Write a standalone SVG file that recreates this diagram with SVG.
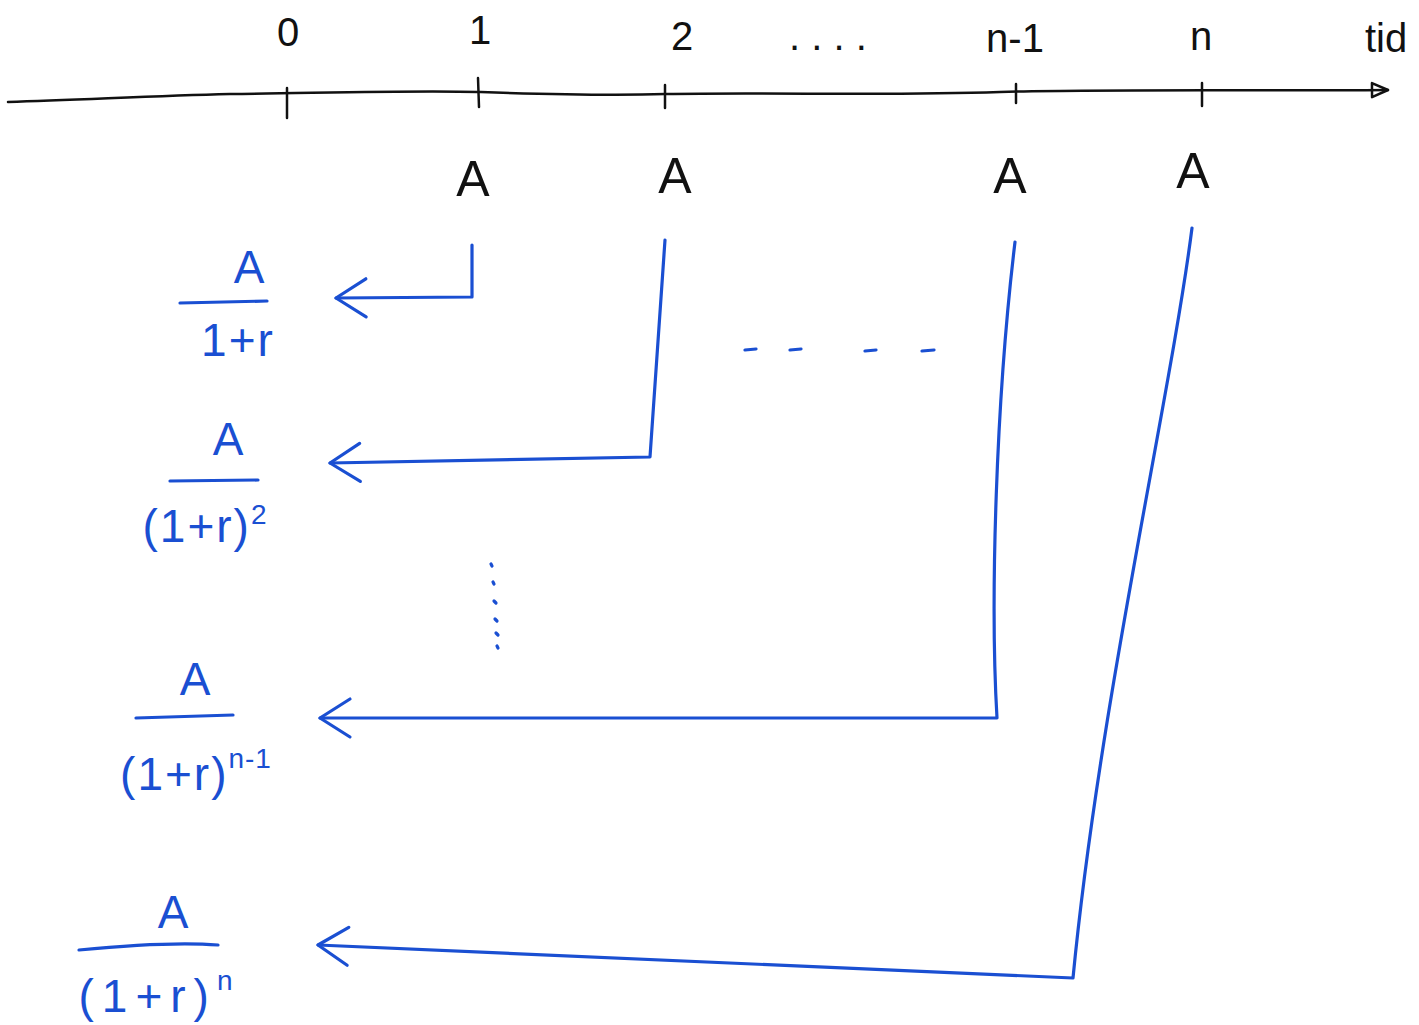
<svg xmlns="http://www.w3.org/2000/svg" width="1419" height="1025" viewBox="0 0 1419 1025">
<style>
.k{font-family:"Liberation Sans",Arial,sans-serif;fill:#111}
.b{font-family:"Liberation Sans",Arial,sans-serif;fill:#1a4fd2}
.ax{fill:none;stroke:#111;stroke-width:2.5;stroke-linecap:round}
.bl{fill:none;stroke:#1a4fd2;stroke-width:3.2;stroke-linecap:round;stroke-linejoin:round}
.lbl{font-size:40px;text-anchor:middle}
.A{font-size:50px;text-anchor:middle}
.num{font-size:46px;text-anchor:middle}
.den{font-size:46px;text-anchor:middle;letter-spacing:2px}
.wide{letter-spacing:8px}
.sup{font-size:28px;letter-spacing:1px}
</style>
<defs>
<marker id="tri" markerUnits="userSpaceOnUse" markerWidth="24" markerHeight="20" refX="18" refY="10" orient="auto">
<path d="M2,3 L18,10 L2,17 Z" fill="none" stroke="#111" stroke-width="2.5" stroke-linejoin="round"/>
</marker>
<marker id="chev" markerUnits="userSpaceOnUse" markerWidth="40" markerHeight="50" refX="36" refY="25" orient="auto">
<path d="M6,6 L36,25 L6,44" fill="none" stroke="#1a4fd2" stroke-width="3.2" stroke-linecap="round" stroke-linejoin="round"/>
</marker>
</defs>
<rect width="1419" height="1025" fill="#fff"/>

<g id="timeline">
<path class="ax" d="M8,102 C80,100 150,96 230,94 C320,93 420,90 478,92 C540,94 600,96 665,94 C780,92 880,96 1000,92 C1100,89 1250,91 1388,90" marker-end="url(#tri)"/>
<path class="ax" d="M287,88 L287,118 M478,78 L479,107 M665,85 L665,108 M1016,84 L1016,103 M1202,83 L1202,106"/>
<text class="k lbl" x="288" y="46">0</text>
<text class="k lbl" x="480" y="44">1</text>
<text class="k lbl" x="682" y="50">2</text>
<text class="k lbl" x="828" y="50">. . . .</text>
<text class="k lbl" x="1015" y="52">n-1</text>
<text class="k lbl" x="1201" y="50">n</text>
<text class="k lbl" x="1386" y="52">tid</text>
</g>

<g id="payments">
<text class="k A" x="473" y="196">A</text>
<text class="k A" x="675" y="193">A</text>
<text class="k A" x="1010" y="193">A</text>
<text class="k A" x="1193" y="188">A</text>
</g>

<g id="connectors">
<path class="bl" d="M472,245 L472,297 L336,298" marker-end="url(#chev)"/>
<path class="bl" d="M665,240 L650,457 L330,463" marker-end="url(#chev)"/>
<path class="bl" d="M1015,242 C996,400 990,600 997,718 L320,718" marker-end="url(#chev)"/>
<path class="bl" d="M1192,228 C1170,400 1100,700 1073,978 L318,945" marker-end="url(#chev)"/>
</g>

<g id="ellipses">
<path class="bl" d="M745,350 L756,349 M790,350 L801,349 M865,351 L876,350 M922,351 L934,350"/>
<path class="bl" d="M491,564 L492,566 M493,582 L494,584 M494,601 L496,603 M495,619 L497,621 M496,633 L498,635 M497,646 L498,648"/>
</g>

<g id="pv1">
<text class="b num" x="249" y="283">A</text>
<path class="bl" d="M180,303 L267,301"/>
<text class="b den" x="238" y="356">1+r</text>
</g>
<g id="pv2">
<text class="b num" x="228" y="455">A</text>
<path class="bl" d="M170,481 L258,480"/>
<text class="b den" x="205" y="542">(1+r)<tspan class="sup" dy="-18">2</tspan></text>
</g>
<g id="pv3">
<text class="b num" x="195" y="695">A</text>
<path class="bl" d="M136,718 L233,715"/>
<text class="b den" x="196" y="790">(1+r)<tspan class="sup" dy="-22">n-1</tspan></text>
</g>
<g id="pv4">
<text class="b num" x="173" y="928">A</text>
<path class="bl" d="M79,950 C120,946 180,942 218,945"/>
<text class="b den wide" x="156" y="1012">(1+r)<tspan class="sup" dy="-22">n</tspan></text>
</g>
</svg>
